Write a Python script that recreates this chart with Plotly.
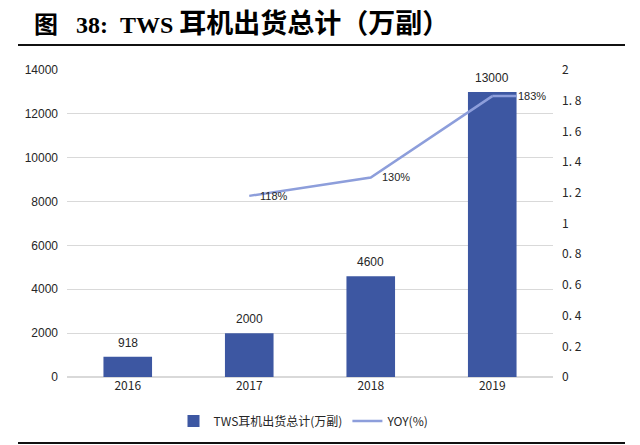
import plotly.graph_objects as go

years = ["2016", "2017", "2018", "2019"]
shipments = [918, 2000, 4600, 13000]
yoy_years = ["2017", "2018", "2019"]
yoy = [1.18, 1.30, 1.83]
yoy_labels = ["118%", "130%", "183%"]
right_ticks = [0, 0.2, 0.4, 0.6, 0.8, 1, 1.2, 1.4, 1.6, 1.8, 2]
right_tick_text = ["0", "0. 2", "0. 4", "0. 6", "0. 8", "1", "1. 2", "1. 4", "1. 6", "1. 8", "2"]

W, H = 640, 445
OFF = 8  # the page body margin shifts the figure by 8px right and down
#  plot area in page pixels: x 67..553, y 70..377
L, R, T, B = 67 - OFF, W - 553 + OFF, 70 - OFF, H - 377 + OFF
BAR_COLOR = "#3d57a2"
LINE_COLOR = "#8d9edb"
CJK = "Noto Sans CJK SC"
SANS = "Liberation Sans, Arial"


def px_to_paper(px, py):
    #  page pixel position -> paper coords of the plot area
    fx, fy = px - OFF, py - OFF
    return (fx - L) / (W - L - R), (H - B - fy) / (H - T - B)


fig = go.Figure()
fig.add_trace(go.Bar(
    x=years, y=shipments, name="TWS耳机出货总计(万副)",
    marker=dict(color=BAR_COLOR, line=dict(width=0))))
fig.add_trace(go.Scatter(
    x=yoy_years, y=yoy, name="YOY(%)", yaxis="y2", mode="lines",
    line=dict(color=LINE_COLOR, width=2.5)))

#  bar value labels
for i, v in enumerate(shipments):
    fig.add_annotation(x=i, y=v, xref="x", yref="y", text=str(v), showarrow=False,
                       yanchor="bottom", yshift=5,
                       font=dict(family=SANS, size=12, color="#262626"))

#  value labels on the line (category index, a "2019" string would be read as an index)
for i, (xv, yv, lab) in enumerate(zip(yoy_years, yoy, yoy_labels)):
    xi = years.index(xv)
    if i == len(yoy) - 1:
        fig.add_annotation(x=xi, y=yv, xref="x", yref="y2", text=lab,
                           showarrow=True, arrowhead=0, arrowwidth=2.5, arrowcolor=LINE_COLOR,
                           ax=24, ay=0, xanchor="left", standoff=0, startstandoff=0,
                           font=dict(family=SANS, size=11, color="#262626"))
    else:
        fig.add_annotation(x=xi, y=yv, xref="x", yref="y2", text=lab, showarrow=False,
                           xanchor="left", xshift=9,
                           font=dict(family=SANS, size=11, color="#262626"))

#  rules above and below the chart
x0, _ = px_to_paper(18, 0)
x1, _ = px_to_paper(625, 0)
_, y_top = px_to_paper(0, 45)
_, y_bot = px_to_paper(0, 443)
for yy in (y_top, y_bot):
    fig.add_shape(type="line", xref="paper", yref="paper", x0=x0, x1=x1, y0=yy, y1=yy,
                  line=dict(color="#111111", width=2))

cjk_span = '<span style="font-size:27px">{}</span>'
title_text = ("图\u00a0\u00a0\u00a038:\u00a0\u00a0TWS " + cjk_span.format("耳机出货总计（万副）"))

lx, ly = px_to_paper(304, 421)
fig.update_layout(
    width=W, height=H,
    margin=dict(l=L, r=R, t=T, b=B),
    plot_bgcolor="white", paper_bgcolor="white",
    title=dict(text=title_text,
               x=(34 - OFF) / W, y=1 - (25 - OFF) / H, xref="container", yref="container",
               xanchor="left", yanchor="middle",
               font=dict(family="Liberation Serif, Times New Roman, Noto Sans CJK SC", size=24,
                         color="#000000", weight="bold")),
    bargap=0.6,
    showlegend=True,
    legend=dict(orientation="h", x=lx, y=ly, xanchor="center", yanchor="middle",
                font=dict(family=CJK, size=12, color="#262626"), itemwidth=30,
                traceorder="normal"),
    xaxis=dict(type="category", showline=False, ticks="", showgrid=False,
               tickfont=dict(family=CJK, size=12, color="#262626")),
    yaxis=dict(range=[0, 14000], dtick=2000, tickformat="d", showgrid=True,
               gridcolor="#d9d9d9", gridwidth=1,
               zeroline=True, zerolinecolor="#d9d9d9", showline=False, ticks="",
               ticklabelstandoff=8,
               tickfont=dict(family=SANS, size=12, color="#262626")),
    yaxis2=dict(range=[0, 2], overlaying="y", side="right", tickvals=right_ticks,
                ticktext=right_tick_text, showgrid=False, zeroline=False, showline=False,
                ticks="", ticklabelstandoff=8,
                tickfont=dict(family=CJK, size=12, color="#262626")),
)

fig.write_html("out.html")
